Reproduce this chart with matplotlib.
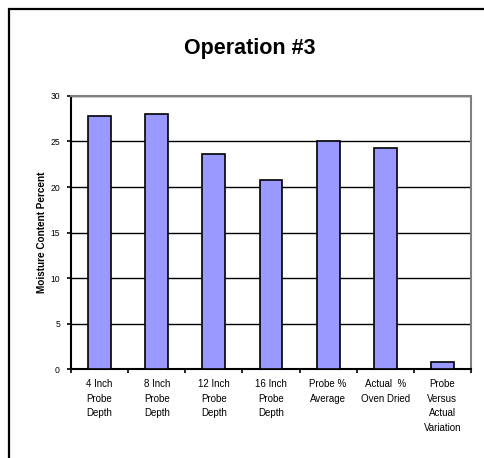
import numpy as np
import matplotlib.pyplot as plt
from matplotlib.patches import Rectangle

# chart data
categories = ['4 Inch\nProbe\nDepth', '8 Inch\nProbe\nDepth', '12 Inch\nProbe\nDepth',
              '16 Inch\nProbe\nDepth', 'Probe %\nAverage', 'Actual  %\nOven Dried',
              'Probe\nVersus\nActual\nVariation']
moisture = [27.8, 28.0, 23.6, 20.8, 25.1, 24.3, 0.75]
yticks = [0, 5, 10, 15, 20, 25, 30]

plt.rcParams['font.family'] = ['Liberation Sans', 'DejaVu Sans']

fig = plt.figure(figsize=(4.85, 4.58), dpi=100)
ax = fig.add_axes([0.1464, 0.1943, 0.8246, 0.5961])

x = np.arange(len(categories))
ax.bar(x, moisture, width=0.4, color='#9999FF', edgecolor='black', linewidth=1.2, zorder=3)

ax.set_xlim(-0.5, len(categories) - 0.5)
ax.set_ylim(0, 30)
ax.set_yticks(yticks)
ax.set_yticklabels([str(v) for v in yticks], fontsize=6.2)
ax.yaxis.grid(True, color='black', linewidth=1, zorder=0)
ax.set_axisbelow(True)

# labels at bar centres, tick marks at category boundaries
ax.set_xticks(x)
ax.set_xticklabels(categories, fontsize=7, linespacing=1.6, va='top')
ax.tick_params(axis='x', which='major', length=0, pad=7)
ax.set_xticks(np.arange(-0.5, len(categories)), minor=True)
ax.tick_params(axis='x', which='minor', length=3, width=1.2, direction='out')
ax.tick_params(axis='y', length=3, width=1.2, direction='out', pad=5)

for side in ['left', 'bottom']:
    ax.spines[side].set_color('black')
    ax.spines[side].set_linewidth(1.5)
for side in ['top', 'right']:
    ax.spines[side].set_color('#808080')
    ax.spines[side].set_linewidth(1.5)

ax.set_ylabel('Moisture Content Percent', fontsize=7.2, fontweight='bold', labelpad=2)

fig.text(0.515, 0.895, 'Operation #3', ha='center', va='center',
         fontsize=15.5, fontweight='bold')

# outer chart border
fig.patches.append(Rectangle((9 / 485, -0.1), 1.2, 1.1 - 8.5 / 458, transform=fig.transFigure,
                             fill=False, edgecolor='black', linewidth=1.6))

fig.savefig('out.png', dpi=100)
